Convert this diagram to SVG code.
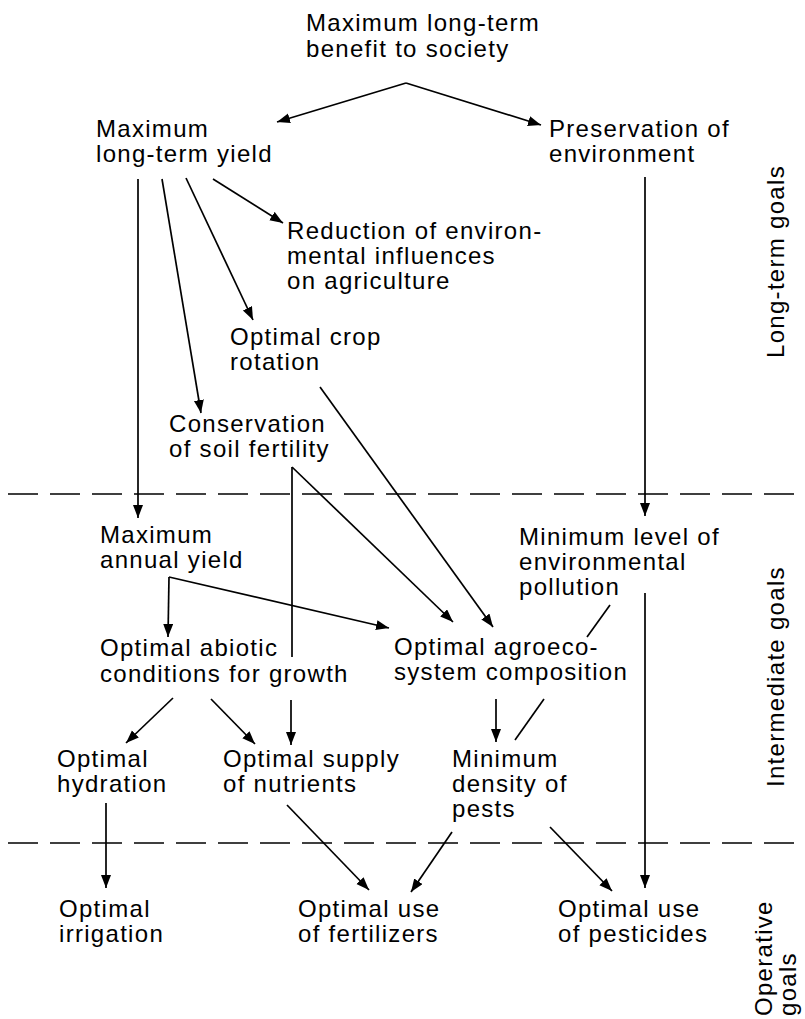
<svg xmlns="http://www.w3.org/2000/svg" width="805" height="1019" viewBox="0 0 805 1019">
<defs>
<marker id="ah" markerUnits="userSpaceOnUse" markerWidth="14" markerHeight="11" refX="13" refY="5" orient="auto">
<path d="M0,0 L13,5 L0,10 z" fill="#000"/>
</marker>
</defs>
<style>
text{font-family:"Liberation Sans",Arial,sans-serif;font-size:24px;letter-spacing:1.3px;fill:#000}
.c line{stroke:#000;stroke-width:1.7;fill:none}
.c .a{marker-end:url(#ah)}
.d line{stroke:#000;stroke-width:1.5;stroke-dasharray:30 12}
</style>
<rect width="805" height="1019" fill="#fff"/>
<g class="d" id="dividers">
<line x1="8" y1="494" x2="805" y2="494"/>
<line x1="8" y1="843" x2="805" y2="843"/>
</g>
<g class="c" id="connectors">
<line class="a" x1="406" y1="83" x2="277" y2="122"/>
<line class="a" x1="406" y1="83" x2="541" y2="125"/>
<line class="a" x1="138" y1="179" x2="138" y2="518"/>
<line class="a" x1="162" y1="179" x2="201" y2="413"/>
<line class="a" x1="186" y1="178" x2="253" y2="320"/>
<line class="a" x1="213" y1="179" x2="283" y2="223"/>
<line class="a" x1="645" y1="177" x2="645" y2="516"/>
<line class="a" x1="320" y1="387" x2="493" y2="627"/>
<line x1="292" y1="467" x2="292" y2="657"/>
<line class="a" x1="292" y1="467" x2="453" y2="622"/>
<line class="a" x1="291" y1="700" x2="291" y2="745"/>
<line class="a" x1="169" y1="577" x2="168" y2="637"/>
<line class="a" x1="169" y1="577" x2="389" y2="628"/>
<line class="a" x1="173" y1="698" x2="126" y2="743"/>
<line class="a" x1="211" y1="699" x2="255" y2="744"/>
<line x1="610" y1="605" x2="587" y2="637"/>
<line class="a" x1="496" y1="699" x2="496" y2="742"/>
<line x1="544" y1="699" x2="515" y2="740"/>
<line class="a" x1="645" y1="593" x2="645" y2="888"/>
<line class="a" x1="106" y1="803" x2="106" y2="888"/>
<line class="a" x1="287" y1="805" x2="369" y2="890"/>
<line class="a" x1="452" y1="832" x2="411" y2="892"/>
<line class="a" x1="550" y1="827" x2="612" y2="891"/>
</g>
<g id="n-benefit"><text x="306" y="31">Maximum long-term</text><text x="306" y="57">benefit to society</text></g>
<g id="n-ltyield"><text x="96" y="137">Maximum</text><text x="96" y="162">long-term yield</text></g>
<g id="n-preservation"><text x="549" y="137">Preservation of</text><text x="549" y="162">environment</text></g>
<g id="n-reduction"><text x="287" y="239">Reduction of environ-</text><text x="287" y="264">mental influences</text><text x="287" y="289">on agriculture</text></g>
<g id="n-crop"><text x="230" y="345">Optimal crop</text><text x="230" y="370">rotation</text></g>
<g id="n-soil"><text x="169" y="432">Conservation</text><text x="169" y="457">of soil fertility</text></g>
<g id="n-annual"><text x="100" y="543">Maximum</text><text x="100" y="568">annual yield</text></g>
<g id="n-pollution"><text x="519" y="545">Minimum level of</text><text x="519" y="570">environmental</text><text x="519" y="595">pollution</text></g>
<g id="n-abiotic"><text x="100" y="656">Optimal abiotic</text><text x="100" y="682">conditions for growth</text></g>
<g id="n-agroeco"><text x="394" y="655">Optimal agroeco-</text><text x="394" y="680">system composition</text></g>
<g id="n-hydration"><text x="57" y="767">Optimal</text><text x="57" y="792">hydration</text></g>
<g id="n-nutrients"><text x="223" y="767">Optimal supply</text><text x="223" y="792">of nutrients</text></g>
<g id="n-pests"><text x="452" y="767">Minimum</text><text x="452" y="792">density of</text><text x="452" y="817">pests</text></g>
<g id="n-irrigation"><text x="59" y="917">Optimal</text><text x="59" y="942">irrigation</text></g>
<g id="n-fertilizers"><text x="298" y="917">Optimal use</text><text x="298" y="942">of fertilizers</text></g>
<g id="n-pesticides"><text x="558" y="917">Optimal use</text><text x="558" y="942">of pesticides</text></g>
<g id="labels">
<text transform="translate(772,1016) rotate(-90)">Operative</text>
<text transform="translate(796,1016) rotate(-90)">goals</text>
<text transform="translate(784,358) rotate(-90)">Long-term goals</text>
<text transform="translate(784,787) rotate(-90)">Intermediate goals</text>
</g>
</svg>
